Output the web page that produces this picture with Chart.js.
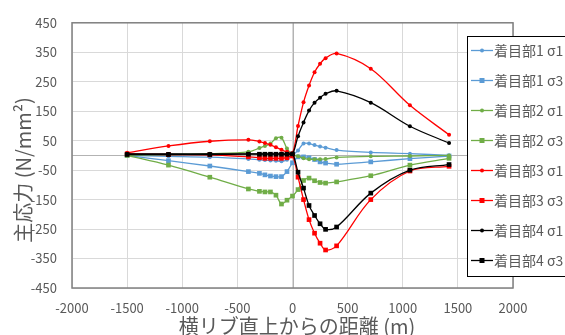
<!DOCTYPE html>
<html>
<head>
<meta charset="utf-8">
<script src="https://cdn.jsdelivr.net/npm/chart.js@4.4.1/dist/chart.umd.min.js"></script>
<style>
  html, body { margin: 0; padding: 0; background: #fff; }
  canvas { display: block; }
</style>
</head>
<body>
<canvas id="chart" width="565" height="335"></canvas>
<script>
// distance from the rib (m)
const distance = [-1500, -1125, -750, -400, -300, -250, -200, -150, -100, -50, 0,
                  50, 100, 150, 200, 250, 300, 400, 710, 1065, 1420];

const part1Sigma1 = [0, -3, -6, -12, -15, -16, -17, -18, -20, -15, 0,
                     17, 40, 40, 35, 30, 26, 18, 10, 6, 0];
const part1Sigma3 = [0, -18, -36, -55, -61, -66, -70, -72, -72, -55, -25,
                     -5, -5, -8, -14, -22, -26, -30, -22, -11, -2];
const part2Sigma1 = [0, 3, 6, 12, 25, 32, 40, 58, 60, 23, 3,
                     -3, -10, -13, -13, -13, -12, -7, -3, -2, 0];
const part2Sigma3 = [0, -33, -74, -114, -122, -124, -124, -135, -165, -152, -138,
                     -116, -85, -77, -86, -92, -94, -90, -69, -33, -10];
const part3Sigma1 = [9, 32, 48, 53, 47, 42, 36, 28, 19, 12, 8,
                     100, 180, 237, 282, 311, 330, 346, 294, 170, 70];
const part3Sigma3 = [5, 3, 2, -5, -8, -10, -10, -10, -10, -8, -2,
                     -74, -150, -218, -264, -298, -321, -307, -150, -53, -37];
const part4Sigma1 = [5, 5, 5, 5, 5, 5, 5, 5, 5, 5, 5,
                     65, 112, 152, 179, 196, 209, 219, 179, 99, 42];
const part4Sigma3 = [3, 3, 3, 4, 4, 4, 4, 4, 4, 4, 5,
                     -57, -111, -170, -204, -232, -251, -243, -128, -50, -31];

const seriesNames = ['着目部1 σ1', '着目部1 σ3', '着目部2 σ1', '着目部2 σ3',
                     '着目部3 σ1', '着目部3 σ3', '着目部4 σ1', '着目部4 σ3'];
const seriesValues = [part1Sigma1, part1Sigma3, part2Sigma1, part2Sigma3,
                      part3Sigma1, part3Sigma3, part4Sigma1, part4Sigma3];
const seriesColors = ['#5B9BD5', '#5B9BD5', '#70AD47', '#70AD47',
                      '#FF0000', '#FF0000', '#000000', '#000000'];

const yTitle = '主応力 (N/mm²)';
const xTitle = '横リブ直上からの距離 (m)';

const textColor = '#595959';
const cjkFont = '"Noto Sans CJK JP", "Noto Sans", sans-serif';

const datasets = seriesValues.map((vals, i) => {
    const isSigma3 = i % 2 === 1;
    return {
        label: seriesNames[i],
        data: distance.map((d, j) => ({ x: d, y: vals[j] })),
        showLine: true,
        borderColor: seriesColors[i],
        backgroundColor: seriesColors[i],
        borderWidth: 1.3,
        tension: 0.35,
        pointStyle: isSigma3 ? 'rect' : 'circle',
        pointRadius: isSigma3 ? 3.3 : 2,
        pointBorderWidth: 0,
        order: 8 - i,
        clip: false
    };
});

const decorPlugin = {
    id: 'decor',
    beforeDatasetsDraw(chart) {
        const ctx = chart.ctx;
        const a = chart.chartArea;
        const x0 = Math.round(chart.scales.x.getPixelForValue(0)) + 0.5;
        const y0 = Math.round(chart.scales.y.getPixelForValue(0)) + 0.5;
        ctx.save();
        ctx.strokeStyle = '#b3b3b3';
        ctx.lineWidth = 1;
        ctx.beginPath();
        ctx.moveTo(a.left, y0);
        ctx.lineTo(a.right, y0);
        ctx.moveTo(x0, a.top);
        ctx.lineTo(x0, a.bottom);
        ctx.stroke();
        ctx.strokeStyle = '#808080';
        ctx.lineWidth = 1.5;
        ctx.strokeRect(a.left, a.top, a.right - a.left, a.bottom - a.top);
        ctx.restore();
    },
    afterDraw(chart) {
        const ctx = chart.ctx;
        ctx.save();
        // axis titles
        ctx.fillStyle = textColor;
        ctx.font = '20px ' + cjkFont;
        ctx.textAlign = 'center';
        ctx.textBaseline = 'middle';
        ctx.fillText(xTitle, 297, 326);
        ctx.translate(23, 170);
        ctx.rotate(-Math.PI / 2);
        ctx.fillText(yTitle, 0, 0);
        ctx.restore();

        // legend box
        ctx.save();
        ctx.fillStyle = '#ffffff';
        ctx.fillRect(467, 36, 140, 241);
        ctx.strokeStyle = '#000000';
        ctx.lineWidth = 1;
        ctx.strokeRect(467.5, 36.5, 140, 240);
        chart.data.datasets.forEach((ds, i) => {
            const y = 50.5 + i * 30;
            ctx.strokeStyle = ds.borderColor;
            ctx.lineWidth = 1.3;
            ctx.beginPath();
            ctx.moveTo(471, y);
            ctx.lineTo(493, y);
            ctx.stroke();
            ctx.fillStyle = ds.backgroundColor;
            if (ds.pointStyle === 'rect') {
                ctx.fillRect(479.5, y - 2.5, 5, 5);
            } else {
                ctx.beginPath();
                ctx.arc(482, y, 2, 0, Math.PI * 2);
                ctx.fill();
            }
            ctx.fillStyle = textColor;
            ctx.font = '14px ' + cjkFont;
            ctx.textAlign = 'left';
            ctx.textBaseline = 'middle';
            ctx.fillText(ds.label, 494, y);
        });
        ctx.restore();
    }
};

new Chart(document.getElementById('chart'), {
    type: 'scatter',
    data: { datasets },
    plugins: [decorPlugin],
    options: {
        responsive: false,
        animation: false,
        devicePixelRatio: 1,
        layout: { padding: { top: 19, right: 52, left: 0, bottom: 0 } },
        plugins: {
            legend: { display: false },
            tooltip: { enabled: false }
        },
        scales: {
            x: {
                type: 'linear',
                min: -2000,
                max: 2000,
                afterFit(scale) { scale.height = 47; },
                ticks: {
                    stepSize: 500,
                    padding: 12,
                    color: textColor,
                    font: { family: cjkFont, size: 13 },
                    callback: v => String(v)
                },
                grid: { color: '#d9d9d9', drawTicks: false },
                border: { display: false }
            },
            y: {
                type: 'linear',
                min: -450,
                max: 450,
                afterFit(scale) { scale.width = 72; },
                ticks: {
                    stepSize: 100,
                    padding: 15,
                    color: textColor,
                    font: { family: cjkFont, size: 13 },
                    callback: v => String(v)
                },
                grid: { color: '#d9d9d9', drawTicks: false },
                border: { display: false }
            }
        }
    }
});
</script>
</body>
</html>
